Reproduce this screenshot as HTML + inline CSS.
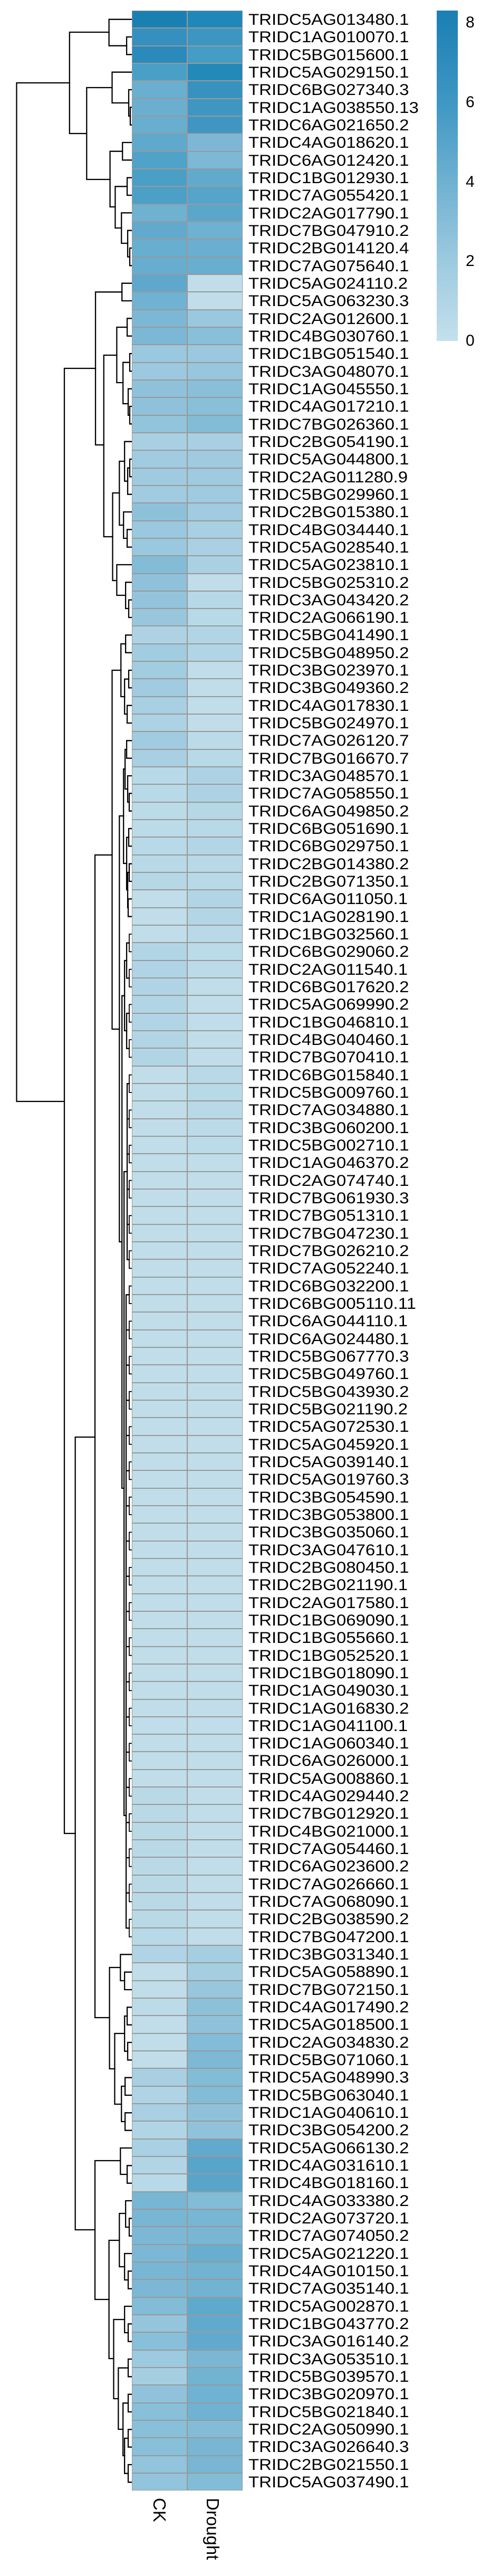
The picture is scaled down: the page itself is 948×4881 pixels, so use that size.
<!DOCTYPE html>
<html><head><meta charset="utf-8"><style>
html,body{margin:0;padding:0;background:#fff;}
body{width:948px;height:4881px;position:relative;overflow:hidden;font-family:"Liberation Sans",Arial,sans-serif;}
#hm{position:absolute;left:249.5px;top:20px;width:700px;}
.r{height:33.333px;display:flex;align-items:stretch;}
.r b{display:block;width:105px;box-sizing:border-box;border:1px solid #999;background:#c0dde9;flex:none;}
.r span{display:block;margin-left:11px;font-size:30px;line-height:33.333px;padding-top:1px;transform:scaleX(1.1);transform-origin:left center;color:#000;white-space:nowrap;}
#leg{position:absolute;left:828px;top:20px;width:40px;height:626px;background:linear-gradient(to bottom,#1a7fb2 0%,#3f97c4 28%,#6fb1d1 52%,#9dcae0 76%,#c4e0ec 100%);}
.lt{position:absolute;left:883px;font-size:30px;line-height:30px;height:30px;}
.cl{position:absolute;top:4733px;font-size:33px;line-height:33px;transform:rotate(90deg);transform-origin:left top;white-space:nowrap;}
svg{position:absolute;left:0;top:0;}
</style></head><body>
<svg width="260" height="4881" viewBox="0 0 260 4881"><g transform="scale(0.984,1)" fill="none" stroke="#000" stroke-width="2.3" stroke-linecap="square">
<path d="M134 157H32V2087H124"/>
<path d="M210 61H134V253H167"/>
<path d="M253 36.7H210V86.7H244"/>
<path d="M253 70H244V103.3H253"/>
<path d="M216 166H167V340H212"/>
<path d="M253 136.7H216V195H248"/>
<path d="M253 170H248V220H251"/>
<path d="M253 203.3H251V236.7H253"/>
<path d="M236 286.7H212V392H222"/>
<path d="M253 270H236V303.3H253"/>
<path d="M245 353.3H222V432H234"/>
<path d="M253 336.7H245V370H253"/>
<path d="M253 403.3H234V461H246"/>
<path d="M253 436.7H246V486.7H250"/>
<path d="M253 470H250V503.3H253"/>
<path d="M184 698H124V3474H145"/>
<path d="M235 553.3H184V843H200"/>
<path d="M253 536.7H235V570H253"/>
<path d="M225 673H200V1017H217"/>
<path d="M245 620H225V725H237"/>
<path d="M253 603.3H245V636.7H253"/>
<path d="M250 686.7H237V765H247"/>
<path d="M253 670H250V703.3H253"/>
<path d="M253 736.7H247V786.7H250"/>
<path d="M253 770H250V803.3H253"/>
<path d="M230 934H217V1100H225"/>
<path d="M240 874H230V995H238"/>
<path d="M253 836.7H240V911.7H246"/>
<path d="M250 886.7H246V936.7H253"/>
<path d="M253 870H250V903.3H253"/>
<path d="M253 970H238V1020H245"/>
<path d="M253 1003.3H245V1036.7H253"/>
<path d="M253 1070H225V1128H242"/>
<path d="M253 1103.3H242V1153H248"/>
<path d="M253 1136.7H248V1170H253"/>
<path d="M183 2723H145V4225H183"/>
<path d="M216 1620H183V3823H211"/>
<path d="M233 1270H216V1950H230"/>
<path d="M242 1220H233V1320H240"/>
<path d="M253 1203.3H242V1236.7H253"/>
<path d="M248 1286.7H240V1353H245"/>
<path d="M253 1270H248V1303.3H253"/>
<path d="M253 1336.7H245V1370H253"/>
<path d="M238 1546H230V2353H235"/>
<path d="M241 1457H238V1636H244"/>
<path d="M244 1420H241V1495H246"/>
<path d="M253 1403.3H244V1436.7H253"/>
<path d="M253 1470H246V1520H249"/>
<path d="M253 1503.3H249V1536.7H253"/>
<path d="M248 1586.7H244V1686H246"/>
<path d="M253 1570H248V1603.3H253"/>
<path d="M249 1653H246V1720H247"/>
<path d="M253 1636.7H249V1670H253"/>
<path d="M253 1703.3H247V1736.7H253"/>
<path d="M240 1886.7H235V2820H239"/>
<path d="M249 1786.7H244V1853.3H249"/>
<path d="M249 1920H244V1986.7H249"/>
<path d="M244 1820H240V1953H244"/>
<path d="M245 2220H239V3440H243"/>
<path d="M245 2053.3V2386.7M245 2053.3H249M245 2120H249M245 2186.7H249M245 2253.3H249M245 2320H249M245 2386.7H249"/>
<path d="M243 2453.3V3653.3M243 2453.3H249M243 2520H249M243 2586.7H249M243 2653.3H249M243 2720H249M243 2786.7H249M243 2853.3H249M243 2920H249M243 2986.7H249M243 3053.3H249M243 3120H249M243 3186.7H249M243 3253.3H249M243 3320H249M243 3386.7H249M243 3453.3H249M243 3520H249M243 3586.7H249M243 3653.3H249"/>
<g stroke-width="1.8">
<path d="M253 1770H249V1803.3H253M253 1836.7H249V1870H253M253 1903.3H249V1936.7H253M253 1970H249V2003.3H253"/>
<path d="M253 2036.7H249V2070H253M253 2103.3H249V2136.7H253M253 2170H249V2203.3H253M253 2236.7H249V2270H253M253 2303.3H249V2336.7H253M253 2370H249V2403.3H253"/>
<path d="M253 2436.7H249V2470H253M253 2503.3H249V2536.7H253M253 2570H249V2603.3H253M253 2636.7H249V2670H253M253 2703.3H249V2736.7H253M253 2770H249V2803.3H253M253 2836.7H249V2870H253M253 2903.3H249V2936.7H253M253 2970H249V3003.3H253"/>
<path d="M253 3036.7H249V3070H253M253 3103.3H249V3136.7H253M253 3170H249V3203.3H253M253 3236.7H249V3270H253M253 3303.3H249V3336.7H253M253 3370H249V3403.3H253M253 3436.7H249V3470H253M253 3503.3H249V3536.7H253M253 3570H249V3603.3H253M253 3636.7H249V3670H253"/>
</g>
<path d="M232 3728H211V3920H221"/>
<path d="M253 3703.3H232V3753H240"/>
<path d="M253 3736.7H240V3770H253"/>
<path d="M240 3853H221V3987H234"/>
<path d="M245 3820H240V3886.7H246"/>
<path d="M253 3803.3H245V3836.7H253"/>
<path d="M253 3870H246V3903.3H253"/>
<path d="M241 3953H234V4020H241"/>
<path d="M253 3936.7H241V3970H253"/>
<path d="M253 4003.3H241V4036.7H253"/>
<path d="M232 4094H183V4357H210"/>
<path d="M253 4070H232V4120H245"/>
<path d="M253 4103.3H245V4136.7H253"/>
<path d="M230 4245H210V4469H219"/>
<path d="M242 4194H230V4295H240"/>
<path d="M253 4170H242V4220H249"/>
<path d="M253 4203.3H249V4236.7H253"/>
<path d="M253 4270H240V4320H247"/>
<path d="M253 4303.3H247V4336.7H253"/>
<path d="M240 4395H219V4545H228"/>
<path d="M253 4370H240V4420H247"/>
<path d="M253 4403.3H247V4436.7H253"/>
<path d="M247 4486.7H228V4603H237"/>
<path d="M253 4470H247V4503.3H253"/>
<path d="M247 4553.3H237V4653H240"/>
<path d="M253 4536.7H247V4570H253"/>
<path d="M247 4620H240V4686.7H247"/>
<path d="M253 4603.3H247V4636.7H253"/>
<path d="M253 4670H247V4703.3H253"/>
</g></svg>
<div id="hm">
<div class="r"><b style="background:#1a80b2"></b><b style="background:#2088b8"></b><span>TRIDC5AG013480.1</span></div>
<div class="r"><b style="background:#3590c0"></b><b style="background:#3d96c1"></b><span>TRIDC1AG010070.1</span></div>
<div class="r"><b style="background:#2a8abb"></b><b style="background:#459cc4"></b><span>TRIDC5BG015600.1</span></div>
<div class="r"><b style="background:#4a9fc7"></b><b style="background:#2289b9"></b><span>TRIDC5AG029150.1</span></div>
<div class="r"><b style="background:#6aafd0"></b><b style="background:#3892c0"></b><span>TRIDC6BG027340.3</span></div>
<div class="r"><b style="background:#6aafd0"></b><b style="background:#3f96c3"></b><span>TRIDC1AG038550.13</span></div>
<div class="r"><b style="background:#68aecf"></b><b style="background:#3f96c3"></b><span>TRIDC6AG021650.2</span></div>
<div class="r"><b style="background:#5fa9cc"></b><b style="background:#7db7d5"></b><span>TRIDC4AG018620.1</span></div>
<div class="r"><b style="background:#4fa2c8"></b><b style="background:#7db8d5"></b><span>TRIDC6AG012420.1</span></div>
<div class="r"><b style="background:#4a9fc7"></b><b style="background:#62aacd"></b><span>TRIDC1BG012930.1</span></div>
<div class="r"><b style="background:#4ca0c7"></b><b style="background:#55a4ca"></b><span>TRIDC7AG055420.1</span></div>
<div class="r"><b style="background:#6eb1d1"></b><b style="background:#5aa7cb"></b><span>TRIDC2AG017790.1</span></div>
<div class="r"><b style="background:#62aacd"></b><b style="background:#6eb1d1"></b><span>TRIDC7BG047910.2</span></div>
<div class="r"><b style="background:#68aecf"></b><b style="background:#6aafd0"></b><span>TRIDC2BG014120.4</span></div>
<div class="r"><b style="background:#67adcf"></b><b style="background:#68aecf"></b><span>TRIDC7AG075640.1</span></div>
<div class="r"><b style="background:#5da8cc"></b><b></b><span>TRIDC5AG024110.2</span></div>
<div class="r"><b style="background:#70b2d1"></b><b></b><span>TRIDC5AG063230.3</span></div>
<div class="r"><b style="background:#7cb8d5"></b><b style="background:#9ac8de"></b><span>TRIDC2AG012600.1</span></div>
<div class="r"><b style="background:#7cb8d5"></b><b style="background:#89bfd9"></b><span>TRIDC4BG030760.1</span></div>
<div class="r"><b style="background:#9ac8de"></b><b style="background:#9ac8de"></b><span>TRIDC1BG051540.1</span></div>
<div class="r"><b style="background:#9cc9df"></b><b style="background:#98c7dd"></b><span>TRIDC3AG048070.1</span></div>
<div class="r"><b style="background:#8fc2da"></b><b style="background:#89bfd9"></b><span>TRIDC1AG045550.1</span></div>
<div class="r"><b style="background:#8fc2da"></b><b style="background:#88bfd9"></b><span>TRIDC4AG017210.1</span></div>
<div class="r"><b style="background:#92c4db"></b><b style="background:#82bcd7"></b><span>TRIDC7BG026360.1</span></div>
<div class="r"><b style="background:#a8d0e2"></b><b style="background:#a8d0e2"></b><span>TRIDC2BG054190.1</span></div>
<div class="r"><b style="background:#a0cbe0"></b><b style="background:#9fcadf"></b><span>TRIDC5AG044800.1</span></div>
<div class="r"><b style="background:#9fcadf"></b><b style="background:#9fcadf"></b><span>TRIDC2AG011280.9</span></div>
<div class="r"><b style="background:#a0cbe0"></b><b style="background:#9fcadf"></b><span>TRIDC5BG029960.1</span></div>
<div class="r"><b style="background:#8dc1da"></b><b style="background:#a0cbe0"></b><span>TRIDC2BG015380.1</span></div>
<div class="r"><b style="background:#9ac8de"></b><b style="background:#a8d0e2"></b><span>TRIDC4BG034440.1</span></div>
<div class="r"><b style="background:#9ac8de"></b><b style="background:#aad1e3"></b><span>TRIDC5AG028540.1</span></div>
<div class="r"><b style="background:#82bcd7"></b><b style="background:#aad1e3"></b><span>TRIDC5AG023810.1</span></div>
<div class="r"><b style="background:#8fc2da"></b><b></b><span>TRIDC5BG025310.2</span></div>
<div class="r"><b style="background:#93c4dc"></b><b style="background:#b7d8e7"></b><span>TRIDC3AG043420.2</span></div>
<div class="r"><b style="background:#98c7dd"></b><b style="background:#b8d9e7"></b><span>TRIDC2AG066190.1</span></div>
<div class="r"><b style="background:#aed2e3"></b><b style="background:#b2d5e6"></b><span>TRIDC5BG041490.1</span></div>
<div class="r"><b style="background:#a2cce0"></b><b style="background:#b2d5e6"></b><span>TRIDC5BG048950.2</span></div>
<div class="r"><b style="background:#a2cce0"></b><b></b><span>TRIDC3BG023970.1</span></div>
<div class="r"><b style="background:#a0cbe0"></b><b></b><span>TRIDC3BG049360.2</span></div>
<div class="r"><b style="background:#a8cfe2"></b><b></b><span>TRIDC4AG017830.1</span></div>
<div class="r"><b style="background:#add2e3"></b><b></b><span>TRIDC5BG024970.1</span></div>
<div class="r"><b style="background:#a0cbe0"></b><b style="background:#bcdbe8"></b><span>TRIDC7AG026120.7</span></div>
<div class="r"><b style="background:#a8cfe2"></b><b style="background:#b8d9e7"></b><span>TRIDC7BG016670.7</span></div>
<div class="r"><b style="background:#b8d9e7"></b><b style="background:#add2e3"></b><span>TRIDC3AG048570.1</span></div>
<div class="r"><b style="background:#b8d9e7"></b><b style="background:#add2e3"></b><span>TRIDC7AG058550.1</span></div>
<div class="r"><b style="background:#bcdbe8"></b><b style="background:#b5d7e6"></b><span>TRIDC6AG049850.2</span></div>
<div class="r"><b style="background:#bcdbe8"></b><b style="background:#b8d9e7"></b><span>TRIDC6BG051690.1</span></div>
<div class="r"><b style="background:#b8d9e7"></b><b style="background:#b3d6e6"></b><span>TRIDC6BG029750.1</span></div>
<div class="r"><b style="background:#b8d9e7"></b><b style="background:#b8d9e7"></b><span>TRIDC2BG014380.2</span></div>
<div class="r"><b style="background:#b5d7e6"></b><b style="background:#b8d9e7"></b><span>TRIDC2BG071350.1</span></div>
<div class="r"><b></b><b style="background:#b2d5e6"></b><span>TRIDC6AG011050.1</span></div>
<div class="r"><b></b><b style="background:#b3d6e6"></b><span>TRIDC1AG028190.1</span></div>
<div class="r"><b></b><b style="background:#b8d9e7"></b><span>TRIDC1BG032560.1</span></div>
<div class="r"><b style="background:#b2d5e6"></b><b style="background:#bcdbe8"></b><span>TRIDC6BG029060.2</span></div>
<div class="r"><b style="background:#b0d4e5"></b><b style="background:#bcdbe8"></b><span>TRIDC2AG011540.1</span></div>
<div class="r"><b style="background:#b0d4e5"></b><b></b><span>TRIDC6BG017620.2</span></div>
<div class="r"><b style="background:#b2d5e6"></b><b></b><span>TRIDC5AG069990.2</span></div>
<div class="r"><b style="background:#b2d5e6"></b><b></b><span>TRIDC1BG046810.1</span></div>
<div class="r"><b style="background:#b2d5e6"></b><b></b><span>TRIDC4BG040460.1</span></div>
<div class="r"><b style="background:#b2d5e6"></b><b></b><span>TRIDC7BG070410.1</span></div>
<div class="r"><b></b><b style="background:#b8d9e7"></b><span>TRIDC6BG015840.1</span></div>
<div class="r"><b></b><b style="background:#b8d9e7"></b><span>TRIDC5BG009760.1</span></div>
<div class="r"><b></b><b style="background:#b8d9e7"></b><span>TRIDC7AG034880.1</span></div>
<div class="r"><b></b><b style="background:#bcdbe8"></b><span>TRIDC3BG060200.1</span></div>
<div class="r"><b></b><b style="background:#bcdbe8"></b><span>TRIDC5BG002710.1</span></div>
<div class="r"><b></b><b></b><span>TRIDC1AG046370.2</span></div>
<div class="r"><b></b><b></b><span>TRIDC2AG074740.1</span></div>
<div class="r"><b></b><b></b><span>TRIDC7BG061930.3</span></div>
<div class="r"><b></b><b></b><span>TRIDC7BG051310.1</span></div>
<div class="r"><b></b><b></b><span>TRIDC7BG047230.1</span></div>
<div class="r"><b></b><b></b><span>TRIDC7BG026210.2</span></div>
<div class="r"><b></b><b></b><span>TRIDC7AG052240.1</span></div>
<div class="r"><b></b><b></b><span>TRIDC6BG032200.1</span></div>
<div class="r"><b></b><b></b><span>TRIDC6BG005110.11</span></div>
<div class="r"><b></b><b></b><span>TRIDC6AG044110.1</span></div>
<div class="r"><b></b><b></b><span>TRIDC6AG024480.1</span></div>
<div class="r"><b></b><b></b><span>TRIDC5BG067770.3</span></div>
<div class="r"><b></b><b></b><span>TRIDC5BG049760.1</span></div>
<div class="r"><b></b><b></b><span>TRIDC5BG043930.2</span></div>
<div class="r"><b></b><b></b><span>TRIDC5BG021190.2</span></div>
<div class="r"><b></b><b></b><span>TRIDC5AG072530.1</span></div>
<div class="r"><b></b><b></b><span>TRIDC5AG045920.1</span></div>
<div class="r"><b></b><b></b><span>TRIDC5AG039140.1</span></div>
<div class="r"><b></b><b></b><span>TRIDC5AG019760.3</span></div>
<div class="r"><b></b><b></b><span>TRIDC3BG054590.1</span></div>
<div class="r"><b></b><b></b><span>TRIDC3BG053800.1</span></div>
<div class="r"><b></b><b></b><span>TRIDC3BG035060.1</span></div>
<div class="r"><b></b><b></b><span>TRIDC3AG047610.1</span></div>
<div class="r"><b></b><b></b><span>TRIDC2BG080450.1</span></div>
<div class="r"><b></b><b></b><span>TRIDC2BG021190.1</span></div>
<div class="r"><b></b><b></b><span>TRIDC2AG017580.1</span></div>
<div class="r"><b></b><b></b><span>TRIDC1BG069090.1</span></div>
<div class="r"><b></b><b></b><span>TRIDC1BG055660.1</span></div>
<div class="r"><b></b><b></b><span>TRIDC1BG052520.1</span></div>
<div class="r"><b></b><b></b><span>TRIDC1BG018090.1</span></div>
<div class="r"><b></b><b></b><span>TRIDC1AG049030.1</span></div>
<div class="r"><b></b><b></b><span>TRIDC1AG016830.2</span></div>
<div class="r"><b></b><b></b><span>TRIDC1AG041100.1</span></div>
<div class="r"><b></b><b></b><span>TRIDC1AG060340.1</span></div>
<div class="r"><b></b><b></b><span>TRIDC6AG026000.1</span></div>
<div class="r"><b></b><b></b><span>TRIDC5AG008860.1</span></div>
<div class="r"><b style="background:#bad9e7"></b><b></b><span>TRIDC4AG029440.2</span></div>
<div class="r"><b style="background:#bad9e7"></b><b></b><span>TRIDC7BG012920.1</span></div>
<div class="r"><b style="background:#bad9e7"></b><b></b><span>TRIDC4BG021000.1</span></div>
<div class="r"><b style="background:#bad9e7"></b><b></b><span>TRIDC7AG054460.1</span></div>
<div class="r"><b style="background:#bad9e7"></b><b></b><span>TRIDC6AG023600.2</span></div>
<div class="r"><b style="background:#bad9e7"></b><b></b><span>TRIDC7AG026660.1</span></div>
<div class="r"><b style="background:#bad9e7"></b><b></b><span>TRIDC7AG068090.1</span></div>
<div class="r"><b style="background:#bad9e7"></b><b></b><span>TRIDC2BG038590.2</span></div>
<div class="r"><b style="background:#b8d9e7"></b><b></b><span>TRIDC7BG047200.1</span></div>
<div class="r"><b style="background:#b0d4e5"></b><b style="background:#a5cee1"></b><span>TRIDC3BG031340.1</span></div>
<div class="r"><b></b><b style="background:#a5cee1"></b><span>TRIDC5AG058890.1</span></div>
<div class="r"><b></b><b style="background:#98c7dd"></b><span>TRIDC7BG072150.1</span></div>
<div class="r"><b style="background:#bcdbe8"></b><b style="background:#8cc1da"></b><span>TRIDC4AG017490.2</span></div>
<div class="r"><b></b><b style="background:#8fc2da"></b><span>TRIDC5AG018500.1</span></div>
<div class="r"><b></b><b style="background:#82bcd7"></b><span>TRIDC2AG034830.2</span></div>
<div class="r"><b></b><b style="background:#7db8d5"></b><span>TRIDC5BG071060.1</span></div>
<div class="r"><b style="background:#a8cfe2"></b><b style="background:#82bcd7"></b><span>TRIDC5AG048990.3</span></div>
<div class="r"><b style="background:#b0d4e5"></b><b style="background:#82bcd7"></b><span>TRIDC5BG063040.1</span></div>
<div class="r"><b style="background:#a8cfe2"></b><b style="background:#8fc2da"></b><span>TRIDC1AG040610.1</span></div>
<div class="r"><b style="background:#b2d5e6"></b><b style="background:#90c3db"></b><span>TRIDC3BG054200.2</span></div>
<div class="r"><b style="background:#aad1e3"></b><b style="background:#62aacd"></b><span>TRIDC5AG066130.2</span></div>
<div class="r"><b style="background:#b2d5e6"></b><b style="background:#58a5ca"></b><span>TRIDC4AG031610.1</span></div>
<div class="r"><b style="background:#b8d9e7"></b><b style="background:#58a5ca"></b><span>TRIDC4BG018160.1</span></div>
<div class="r"><b style="background:#78b6d4"></b><b style="background:#82bcd7"></b><span>TRIDC4AG033380.2</span></div>
<div class="r"><b style="background:#78b6d4"></b><b style="background:#78b6d4"></b><span>TRIDC2AG073720.1</span></div>
<div class="r"><b style="background:#7cb8d5"></b><b style="background:#78b6d4"></b><span>TRIDC7AG074050.2</span></div>
<div class="r"><b style="background:#7cb8d5"></b><b style="background:#68aecf"></b><span>TRIDC5AG021220.1</span></div>
<div class="r"><b style="background:#78b6d4"></b><b style="background:#72b3d2"></b><span>TRIDC4AG010150.1</span></div>
<div class="r"><b style="background:#7cb8d5"></b><b style="background:#72b3d2"></b><span>TRIDC7AG035140.1</span></div>
<div class="r"><b style="background:#82bcd7"></b><b style="background:#5ea9cc"></b><span>TRIDC5AG002870.1</span></div>
<div class="r"><b style="background:#95c5dc"></b><b style="background:#62aacd"></b><span>TRIDC1BG043770.2</span></div>
<div class="r"><b style="background:#88bfd9"></b><b style="background:#62aacd"></b><span>TRIDC3AG016140.2</span></div>
<div class="r"><b style="background:#9ccae0"></b><b style="background:#7ab7d4"></b><span>TRIDC3AG053510.1</span></div>
<div class="r"><b style="background:#a5cee1"></b><b style="background:#72b3d2"></b><span>TRIDC5BG039570.1</span></div>
<div class="r"><b style="background:#90c3db"></b><b style="background:#70b2d1"></b><span>TRIDC3BG020970.1</span></div>
<div class="r"><b style="background:#88bfd9"></b><b style="background:#70b2d1"></b><span>TRIDC5BG021840.1</span></div>
<div class="r"><b style="background:#88bfd9"></b><b style="background:#82bcd7"></b><span>TRIDC2AG050990.1</span></div>
<div class="r"><b style="background:#88bfd9"></b><b style="background:#78b6d4"></b><span>TRIDC3AG026640.3</span></div>
<div class="r"><b style="background:#92c4db"></b><b style="background:#78b6d4"></b><span>TRIDC2BG021550.1</span></div>
<div class="r"><b style="background:#92c4db"></b><b style="background:#82bcd7"></b><span>TRIDC5AG037490.1</span></div>
</div>
<div id="leg"></div>
<div class="lt" style="top:28px">8</div>
<div class="lt" style="top:179px">6</div>
<div class="lt" style="top:330px">4</div>
<div class="lt" style="top:480px">2</div>
<div class="lt" style="top:631px">0</div>
<div class="cl" style="left:319px">CK</div>
<div class="cl" style="left:420px">Drought</div>
</body></html>
